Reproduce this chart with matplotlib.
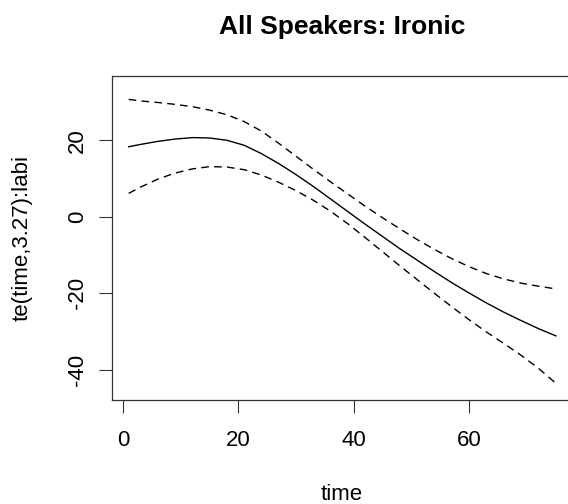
import matplotlib
matplotlib.use("Agg")
import matplotlib.pyplot as plt

plt.rcParams['font.family'] = ['Liberation Sans', 'DejaVu Sans']

time = [1, 3, 6, 9, 12, 15, 18, 21, 24, 27, 30, 33, 36, 39, 42, 45, 48, 51, 54, 57, 60, 63, 66, 69, 72, 75]
fit = [18.3, 18.9, 19.7, 20.3, 20.7, 20.6, 20.0, 18.7, 16.5, 13.9, 11.0, 7.9, 4.6, 1.3, -2.0, -5.2,
       -8.4, -11.4, -14.4, -17.3, -20.0, -22.6, -25.0, -27.2, -29.3, -31.2]
upper = [30.7, 30.3, 29.9, 29.4, 28.8, 27.9, 26.7, 24.9, 22.4, 19.2, 15.8, 12.4, 9.1, 5.9, 2.7, -0.3,
         -3.2, -6.0, -8.6, -11.0, -13.1, -14.9, -16.3, -17.4, -18.2, -18.9]
lower = [6.1, 7.7, 9.8, 11.4, 12.5, 13.1, 13.0, 12.3, 10.9, 9.0, 6.8, 4.3, 1.4, -1.9, -5.5, -9.2,
         -12.9, -16.5, -20.1, -23.6, -27.0, -30.2, -33.2, -36.3, -39.7, -43.6]

xticks = [0, 20, 40, 60]
yticks = [-40, -20, 0, 20]

W, H = 568, 504
fig = plt.figure(figsize=(W / 100, H / 100), dpi=100)
left, right, top, bottom = 111.6, 572.9, 75.7, 400.0
ax = fig.add_axes([left / W, 1 - bottom / H, (right - left) / W, (bottom - top) / H])

ax.plot(time, fit, color='black', lw=1.0)
ax.plot(time, upper, color='black', lw=1.0, dashes=(5.5, 3.8))
ax.plot(time, lower, color='black', lw=1.0, dashes=(5.5, 3.8))

ax.set_xlim(-1.96, 77.96)
ax.set_ylim(-47.98, 36.9)
ax.set_xticks(xticks)
ax.set_yticks(yticks)
ax.set_xticklabels([str(v) for v in xticks], fontsize=16)
ax.set_yticklabels([str(v) for v in yticks], fontsize=16, rotation=90, va='center')
ax.tick_params(axis='both', direction='out', length=9.5, width=0.8, color='#333333')
ax.tick_params(axis='x', pad=12)
ax.tick_params(axis='y', pad=7.5)
for s in ax.spines.values():
    s.set_linewidth(0.9)
    s.set_color('#333333')

fig.text(342 / W, 1 - 27 / H, 'All Speakers: Ironic', ha='center', va='center',
         fontsize=19, fontweight='bold')
fig.text(342 / W, 1 - 495 / H, 'time', ha='center', va='center', fontsize=16)
fig.text(22 / W, 1 - 238 / H, 'te(time,3.27):labi', ha='center', va='center',
         fontsize=16, rotation=90)

fig.savefig('out.png', dpi=100)
